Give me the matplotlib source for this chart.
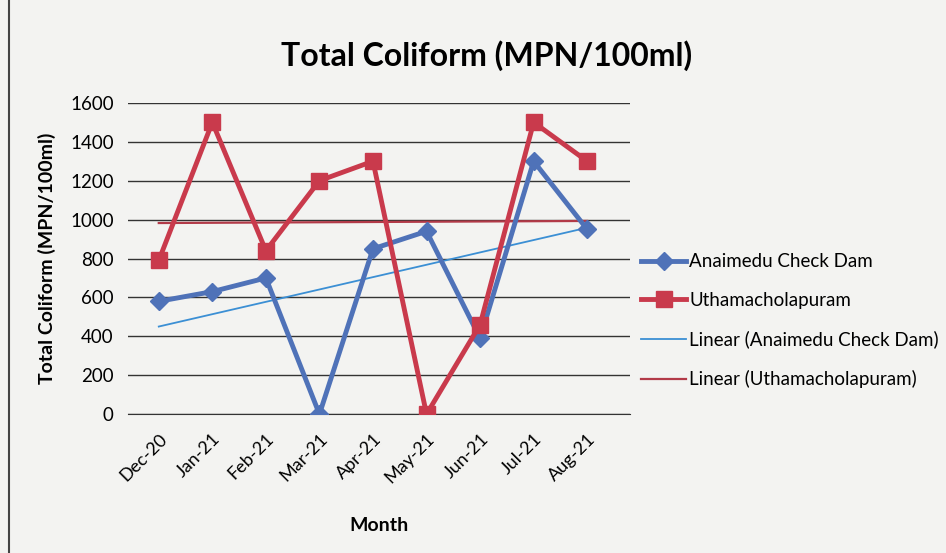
import matplotlib.pyplot as plt
import numpy as np

months = ["Dec-20", "Jan-21", "Feb-21", "Mar-21", "Apr-21", "May-21", "Jun-21", "Jul-21", "Aug-21"]
anaimedu = [580, 630, 700, 0, 850, 940, 390, 1300, 950]
uthama = [790, 1500, 840, 1200, 1300, 0, 460, 1500, 1300]

plt.rcParams['font.family'] = ['Lato', 'DejaVu Sans']

fig = plt.figure(figsize=(9.46, 5.53), dpi=100)
fig.patch.set_facecolor("#f3f3f1")
ax = fig.add_axes([0.135, 0.251, 0.531, 0.563])
ax.set_facecolor("#f3f3f1")

x = np.arange(len(months))

# linear trend lines (like Excel)
ka, ba = np.polyfit(x, anaimedu, 1)
ku, bu = np.polyfit(x, uthama, 1)

blue = "#4f72b8"
red = "#c93a4c"

ax.plot(x, anaimedu, color=blue, lw=3.5, marker="D", ms=9, label="Anaimedu Check Dam", zorder=3)
ax.plot(x, uthama, color=red, lw=3.5, marker="s", ms=12, label="Uthamacholapuram", zorder=4)
ax.plot(x, ka * x + ba, color="#3b8fd4", lw=1.3, label="Linear (Anaimedu Check Dam)", zorder=2)
ax.plot(x, ku * x + bu, color="#b23a48", lw=1.6, label="Linear (Uthamacholapuram)", zorder=2)

ax.set_ylim(0, 1600)
ax.set_yticks(range(0, 1601, 200))
ax.set_xlim(-0.58, 8.8)
ax.set_xticks(x)
ax.set_xticklabels(months, rotation=45, ha="right", rotation_mode="anchor", fontsize=13)
ax.tick_params(axis="y", labelsize=13.5, length=0, pad=10)
ax.tick_params(axis="x", length=0, pad=12)
ax.yaxis.grid(True, color="#333333", lw=1)
ax.set_axisbelow(True)
for s in ["top", "right"]:
    ax.spines[s].set_visible(False)
ax.spines["left"].set_visible(False)
ax.spines["bottom"].set_color("#333333")

ax.set_ylabel("Total Coliform (MPN/100ml)", fontsize=14, fontweight="bold", labelpad=10)
ax.set_xlabel("Month", fontsize=14, fontweight="bold", labelpad=22)
fig.text(0.514, 0.90, "Total Coliform (MPN/100ml)", fontsize=23, fontweight="bold", ha="center", va="center")

ax.legend(loc="center left", bbox_to_anchor=(1.0, 0.30), frameon=False, fontsize=13.5,
          handlelength=2.4, labelspacing=1.15, handletextpad=0.15, borderaxespad=0.2)

# chart border from scan
fig.add_artist(plt.Line2D([0.009, 0.009], [0, 1], color="#444444", lw=1.5))

fig.savefig("out.png", dpi=100, facecolor=fig.get_facecolor())
